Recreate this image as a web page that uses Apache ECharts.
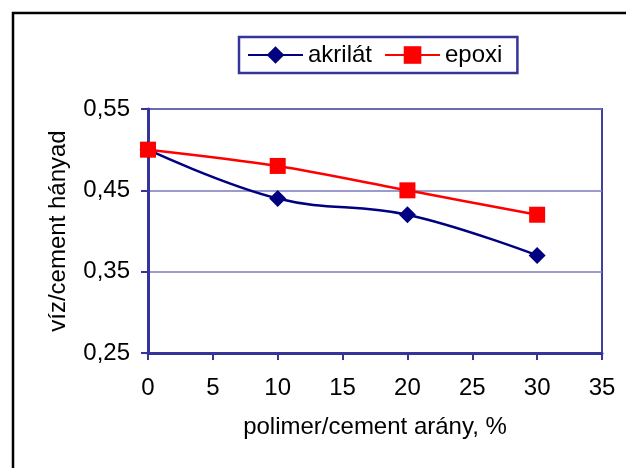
<!DOCTYPE html>
<html>
<head>
<meta charset="utf-8">
<script src="https://cdn.jsdelivr.net/npm/echarts@6/dist/echarts.min.js"></script>
<style>html,body{margin:0;padding:0;background:#fff;}#c{width:626px;height:468px;}</style>
</head>
<body>
<div id="c"></div>
<script>
const xValues = [0, 10, 20, 30];
const akrilat = [0.50, 0.44, 0.42, 0.37];
const epoxi = [0.50, 0.48, 0.45, 0.42];
const seriesNames = ['akrilát', 'epoxi'];
const xTicks = { min: 0, max: 35, interval: 5 };
const yTicks = { min: 0.25, max: 0.55, interval: 0.1 };

const axisBlue = '#34349a';
const font = 'Liberation Sans, Arial, sans-serif';
const chart = echarts.init(document.getElementById('c'));
chart.setOption({
  animation: false,
  backgroundColor: '#fff',
  graphic: [{
    type: 'rect', silent: true, z: 100,
    shape: { x: 13, y: 13, width: 700, height: 600 },
    style: { fill: 'none', stroke: '#000', lineWidth: 2.5 }
  }],
  legend: {
    left: 239, top: 37,
    padding: [6, 15, 6, 8],
    itemGap: 12, itemWidth: 55, itemHeight: 22,
    borderColor: axisBlue, borderWidth: 2.5,
    textStyle: { fontFamily: font, fontSize: 24, color: '#000' },
    data: seriesNames
  },
  grid: { left: 148, top: 109, right: 24, bottom: 115, show: true, borderColor: '#4040a0', borderWidth: 2 },
  xAxis: {
    type: 'value', min: xTicks.min, max: xTicks.max, interval: xTicks.interval,
    name: 'polimer/cement arány, %', nameLocation: 'middle', nameGap: 62,
    nameTextStyle: { fontFamily: font, fontSize: 24, color: '#000' },
    axisLine: { lineStyle: { color: axisBlue, width: 3 } },
    axisTick: { show: true, inside: false, length: 7, lineStyle: { color: axisBlue, width: 2 } },
    axisLabel: { fontFamily: font, fontSize: 24, color: '#000', margin: 23,
      formatter: v => String(v) },
    splitLine: { show: false }
  },
  yAxis: {
    type: 'value', min: yTicks.min, max: yTicks.max, interval: yTicks.interval,
    name: 'víz/cement hányad', nameLocation: 'middle', nameGap: 78,
    nameTextStyle: { fontFamily: font, fontSize: 24, color: '#000' },
    axisLine: { show: true, lineStyle: { color: axisBlue, width: 3 } },
    axisTick: { show: true, inside: false, length: 7, lineStyle: { color: axisBlue, width: 2 } },
    axisLabel: { fontFamily: font, fontSize: 24, color: '#000', margin: 18,
      formatter: v => v.toFixed(2).replace('.', ',') },
    splitLine: { show: true, lineStyle: { color: '#7a7abc', width: 1.5 } }
  },
  series: [
    {
      name: seriesNames[0], type: 'line', smooth: 0.4,
      data: xValues.map((x, i) => [x, akrilat[i]]),
      symbol: 'diamond', symbolSize: 17,
      lineStyle: { color: '#000080', width: 2.5 },
      itemStyle: { color: '#000080' }, z: 3
    },
    {
      name: seriesNames[1], type: 'line', smooth: 0.3,
      data: xValues.map((x, i) => [x, epoxi[i]]),
      symbol: 'rect', symbolSize: 16,
      lineStyle: { color: '#ff0000', width: 2.5 },
      itemStyle: { color: '#ff0000' }, z: 4
    }
  ]
});
</script>
</body>
</html>
